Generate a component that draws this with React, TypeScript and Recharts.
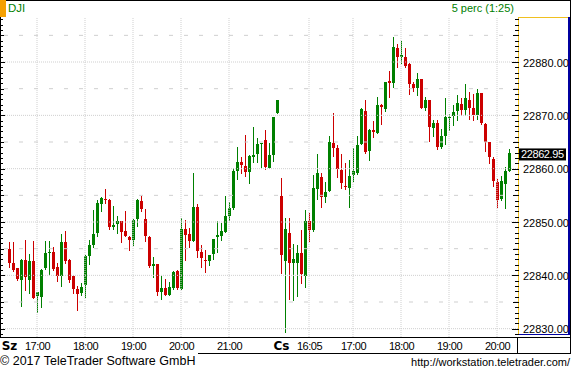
import React from "react";
import { ComposedChart, Bar, XAxis, YAxis, ReferenceLine } from "recharts";

// 5 minute candles, DJI, two sessions (Sz / Cs)
const opens = [
  22845.0, 22842.3, 22841.3, 22839.2, 22842.9, 22839.2, 22842.7, 22836.2, 22836.0, 22841.4,
  22844.1, 22844.3, 22841.6, 22839.9, 22846.2, 22842.8, 22839.9, 22837.4, 22836.6, 22838.2,
  22843.6, 22845.7, 22847.9, 22853.3, 22854.3, 22854.1, 22849.0, 22849.6, 22850.1, 22848.4,
  22847.2, 22846.7, 22850.6, 22854.0, 22850.6, 22847.2, 22841.8, 22842.1, 22836.9, 22837.7,
  22836.3, 22837.7, 22840.8, 22837.5, 22848.6, 22847.8, 22846.5, 22852.8, 22844.3, 22842.9,
  22842.75, 22844.0, 22847.1, 22847.4, 22848.2, 22851.2, 22852.6, 22859.6, 22861.2, 22860.5,
  22859.4, 22862.1, 22862.8, 22864.7, 22865.4, 22860.2, 22862.6, 22870.5, 22854.9, 22842.6,
  22847.9, 22842.4, 22842.25, 22844.1, 22839.9, 22850.2, 22848.5, 22856.1, 22858.4, 22854.6,
  22855.9, 22864.9, 22863.8, 22859.75, 22856.8, 22856.3, 22858.75, 22859.2, 22864.7, 22870.8,
  22863.4, 22867.3, 22866.7, 22871.95, 22871.2, 22876.4, 22876.0, 22882.6, 22881.0, 22881.0,
  22879.7, 22875.9, 22875.2, 22876.8, 22871.45, 22872.8, 22867.7, 22868.5, 22864.0, 22866.2,
  22869.6, 22869.8, 22870.8, 22872.1, 22870.95, 22872.9, 22871.3, 22870.1, 22874.1, 22868.3,
  22865.0, 22861.8, 22857.5, 22854.3, 22857.1, 22859.6,
];
const highs = [
  22846.2, 22846.2, 22841.4, 22843.1, 22846.7, 22844.0, 22846.5, 22836.9, 22841.1, 22846.5,
  22846.4, 22845.4, 22842.4, 22847.8, 22848.4, 22843.0, 22840.0, 22838.0, 22838.5, 22843.8,
  22846.7, 22852.3, 22854.2, 22854.7, 22856.1, 22854.3, 22853.0, 22851.2, 22850.2, 22852.0,
  22847.3, 22850.6, 22854.3, 22854.9, 22852.5, 22847.3, 22843.5, 22842.1, 22839.9, 22839.3,
  22838.8, 22840.9, 22841.0, 22850.8, 22850.4, 22848.9, 22859.1, 22853.3, 22845.7, 22844.8,
  22843.9, 22846.9, 22850.2, 22849.75, 22854.9, 22853.8, 22860.1, 22864.1, 22862.1, 22866.4,
  22862.6, 22867.8, 22865.8, 22864.9, 22867.25, 22864.9, 22869.75, 22872.9, 22858.2, 22850.8,
  22850.8, 22845.9, 22845.7, 22848.5, 22852.25, 22851.6, 22858.8, 22862.75, 22859.25, 22857.5,
  22866.1, 22870.4, 22864.4, 22862.75, 22861.1, 22861.7, 22863.85, 22866.2, 22871.3, 22872.8,
  22867.5, 22869.0, 22873.5, 22872.1, 22876.3, 22878.4, 22884.7, 22883.4, 22884.0, 22882.7,
  22879.75, 22876.2, 22877.9, 22876.9, 22873.4, 22872.9, 22869.15, 22869.15, 22867.5, 22873.3,
  22870.2, 22872.0, 22873.8, 22873.2, 22875.8, 22874.45, 22874.0, 22874.9, 22874.1, 22868.5,
  22865.0, 22862.1, 22858.0, 22858.6, 22860.4, 22863.6,
];
const lows = [
  22841.6, 22840.9, 22839.1, 22834.2, 22837.2, 22836.7, 22835.8, 22833.1, 22834.0, 22841.1,
  22840.3, 22841.0, 22839.0, 22838.0, 22842.3, 22838.8, 22836.7, 22833.5, 22836.3, 22836.0,
  22842.1, 22845.4, 22847.4, 22852.0, 22853.5, 22848.7, 22848.7, 22847.9, 22846.2, 22847.3,
  22844.8, 22845.7, 22849.3, 22852.0, 22846.5, 22841.6, 22839.6, 22836.3, 22835.5, 22836.3,
  22836.3, 22837.5, 22837.5, 22837.4, 22842.9, 22845.3, 22846.4, 22843.4, 22841.6, 22840.7,
  22841.9, 22843.1, 22844.4, 22846.6, 22848.1, 22850.4, 22852.4, 22858.1, 22859.1, 22858.7,
  22857.4, 22861.3, 22861.3, 22860.4, 22859.9, 22860.1, 22861.4, 22870.4, 22840.5, 22829.4,
  22835.6, 22835.4, 22836.2, 22838.6, 22837.9, 22846.5, 22848.3, 22854.25, 22852.75, 22853.8,
  22855.8, 22862.4, 22858.4, 22856.4, 22856.1, 22852.9, 22857.6, 22859.05, 22864.7, 22863.0,
  22861.55, 22865.85, 22866.7, 22868.4, 22870.8, 22873.5, 22875.4, 22879.1, 22879.9, 22879.1,
  22874.0, 22874.6, 22873.8, 22871.45, 22870.95, 22865.2, 22866.2, 22863.6, 22863.8, 22864.7,
  22867.3, 22868.1, 22869.15, 22870.0, 22870.1, 22869.3, 22869.1, 22869.25, 22868.4, 22863.4,
  22861.1, 22856.8, 22852.9, 22854.1, 22852.6, 22859.6,
];
const closes = [
  22842.4, 22841.0, 22839.3, 22842.9, 22839.7, 22842.7, 22835.8, 22836.9, 22841.0, 22844.2,
  22844.3, 22841.2, 22839.9, 22846.2, 22842.6, 22839.2, 22837.5, 22836.5, 22837.8, 22843.6,
  22845.7, 22847.8, 22853.6, 22854.5, 22854.1, 22849.0, 22849.5, 22850.1, 22848.2, 22847.3,
  22846.7, 22850.4, 22854.1, 22852.4, 22847.3, 22841.8, 22842.1, 22836.9, 22837.7, 22836.3,
  22837.9, 22840.7, 22837.7, 22848.6, 22847.6, 22846.4, 22852.8, 22844.5, 22843.3, 22842.6,
  22843.8, 22846.9, 22847.6, 22848.3, 22851.1, 22852.6, 22859.6, 22861.2, 22860.7, 22859.4,
  22862.4, 22862.6, 22864.6, 22864.8, 22860.4, 22862.6, 22869.6, 22872.9, 22843.8, 22848.7,
  22842.4, 22843.1, 22844.1, 22840.25, 22850.2, 22848.5, 22856.4, 22859.1, 22854.75, 22855.6,
  22865.0, 22863.8, 22860.0, 22857.25, 22856.6, 22858.7, 22859.6, 22864.5, 22871.2, 22863.2,
  22867.3, 22866.8, 22872.0, 22871.5, 22876.2, 22876.1, 22882.9, 22881.0, 22881.4, 22879.25,
  22875.9, 22875.2, 22876.8, 22871.45, 22872.8, 22867.9, 22868.5, 22864.1, 22866.1, 22869.6,
  22869.7, 22870.7, 22872.3, 22871.0, 22873.2, 22871.45, 22870.1, 22874.1, 22868.5, 22865.0,
  22862.1, 22857.6, 22854.15, 22857.7, 22859.6, 22862.95,
];

// x axis: candle index -> label
const tickIdx = [0, 7, 19, 31, 43, 55, 68, 75, 86, 98, 110, 122];
const tickText = ["Sz", "17:00", "18:00", "19:00", "20:00", "21:00", "Cs", "16:05", "17:00", "18:00", "19:00", "20:00"];
const dayTicks = ["Sz", "Cs"];

const majorLevels = [22830, 22840, 22850, 22860, 22870, 22880];
const halfLevels = [22835, 22845, 22855, 22865, 22875, 22885];
const yDomain = [22828.44, 22888.44];
const lastPrice = 22862.95;

const UP = "#008000";
const DOWN = "#cc0000";
const GRID = "#cfcfcf";
const FONT = "'Liberation Sans', Arial, sans-serif";

const data = opens.map((o, i) => ({
  i,
  o,
  h: highs[i],
  l: lows[i],
  c: closes[i],
  range: [lows[i], highs[i]],
}));

// one tick per price unit on both side rulers
const unitTicks = Array.from({ length: 60 }, (_, k) => 22829 + k);

const Candle = (props: any) => {
  const { x, y, width, height, payload } = props;
  if (!payload) return null;
  const { o, h, l, c } = payload;
  const top = Math.min(y, y + height);
  const bot = Math.max(y, y + height);
  const py = (v: number) => (h > l ? top + ((h - v) / (h - l)) * (bot - top) : top);
  const cx = Math.round(x + width / 2);
  const color = c >= o ? UP : DOWN;
  const bTop = Math.round(py(Math.max(o, c)));
  const bBot = Math.max(bTop + 1, Math.round(py(Math.min(o, c))));
  return (
    <g shapeRendering="crispEdges">
      <line x1={cx + 0.5} x2={cx + 0.5} y1={Math.round(py(h))} y2={Math.round(py(l)) + 1} stroke={color} strokeWidth={1} />
      <rect x={cx - 1} y={bTop} width={3} height={bBot - bTop} fill={color} />
    </g>
  );
};

const YTick = (props: any) => {
  const { y, payload } = props;
  const v = payload.value;
  const major = v % 10 === 0;
  const half = v % 5 === 0;
  const leftLen = major ? 5 : half ? 4 : 3;
  const rightStart = major ? 512 : half ? 513 : 515;
  const yy = Math.round(y) + 0.5;
  return (
    <g>
      <line x1={0} x2={leftLen} y1={yy} y2={yy} stroke="#000" />
      <line x1={rightStart} x2={519} y1={yy} y2={yy} stroke="#000" />
      {major && (
        <text x={523} y={y + 4.5} fontSize={11} fontFamily={FONT} fill="#000">
          {v.toFixed(2)}
        </text>
      )}
    </g>
  );
};

const XTick = (props: any) => {
  const { x, payload } = props;
  const label = tickText[tickIdx.indexOf(payload.value)];
  const isDay = dayTicks.includes(label);
  return (
    <text
      x={x + 1.5}
      y={350}
      textAnchor="middle"
      fontSize={isDay ? 12 : 11}
      fontWeight={isDay ? "bold" : "normal"}
      letterSpacing={isDay ? 0 : -0.5}
      fontFamily={isDay ? "'DejaVu Sans', sans-serif" : FONT}
      fill="#000"
    >
      {label}
    </text>
  );
};

const LastPriceLabel = (props: any) => {
  const vb = props.viewBox;
  if (!vb) return null;
  const x0 = vb.x + vb.width + 1;
  return (
    <g>
      <rect x={x0} y={vb.y - 4.5} width={47} height={12} fill="#000" />
      <text x={x0 + 2} y={vb.y + 5.5} fontSize={11} letterSpacing={-0.4} fontFamily={FONT} fill="#fff">
        {lastPrice.toFixed(2)}
      </text>
    </g>
  );
};

const VGrid = (p: any) => (
  <line x1={p.x1 + 1} x2={p.x2 + 1} y1={p.y1} y2={p.y2} stroke={GRID} strokeDasharray="1 1" />
);

const line = (style: React.CSSProperties) => (
  <div style={{ position: "absolute", background: "#000", ...style }} />
);

export default function App() {
  return (
    <div
      style={{
        position: "absolute",
        left: 0,
        top: 0,
        width: 571,
        height: 372,
        background: "#fff",
        overflow: "hidden",
        fontFamily: FONT,
      }}
    >
      {/* frame */}
      {line({ left: 0, top: 0, width: 571, height: 1 })}
      {line({ left: 570, top: 0, width: 1, height: 354 })}
      {line({ left: 0, top: 17, width: 1, height: 320 })}
      {line({ left: 0, top: 337, width: 571, height: 1 })}
      {line({ left: 198, top: 353, width: 373, height: 1 })}
      {line({ left: 517, top: 337, width: 1, height: 16 })}
      {/* price scale panel */}
      <div style={{ position: "absolute", left: 518, top: 17, width: 51, height: 1, background: "#f0c020" }} />
      <div style={{ position: "absolute", left: 518, top: 17, width: 1, height: 318, background: "#f0c020" }} />
      <div style={{ position: "absolute", left: 568, top: 17, width: 2, height: 318, background: "#0000a0" }} />
      <div style={{ position: "absolute", left: 518, top: 334, width: 52, height: 1, background: "#0000a0" }} />
      {/* header */}
      <div style={{ position: "absolute", left: 0, top: 0, width: 6, height: 17, background: "#f5a000" }} />
      <div style={{ position: "absolute", left: 8, top: 2, fontSize: 11.5, color: "#008000", lineHeight: "13px" }}>DJI</div>
      <div
        style={{ position: "absolute", right: 57, top: 2, fontSize: 11, color: "#008000", lineHeight: "13px", whiteSpace: "nowrap" }}
      >
        5 perc (1:25)
      </div>
      {/* footer */}
      <div style={{ position: "absolute", left: 0, top: 354, fontSize: 12.5, lineHeight: "15px", color: "#000", whiteSpace: "nowrap" }}>
        © 2017 TeleTrader Software GmbH
      </div>
      <div style={{ position: "absolute", right: 1, top: 355, fontSize: 11, lineHeight: "15px", color: "#000", whiteSpace: "nowrap" }}>
        http://workstation.teletrader.com/
      </div>

      <ComposedChart
        width={571}
        height={372}
        data={data}
        margin={{ top: 17, right: 0, bottom: 0, left: 3 }}
        style={{ position: "absolute", left: 0, top: 0 }}
      >
        <XAxis
          dataKey="i"
          type="category"
          padding={{ left: 3, right: 8 }}
          ticks={tickIdx}
          interval={0}
          tick={<XTick />}
          tickLine={false}
          axisLine={false}
          height={35}
        />
        <YAxis
          orientation="right"
          domain={yDomain}
          allowDataOverflow
          ticks={unitTicks}
          interval={0}
          tick={<YTick />}
          tickLine={false}
          axisLine={false}
          width={53}
        />
        {majorLevels.map((v) => (
          <ReferenceLine key={"m" + v} y={v} stroke={GRID} strokeDasharray="1 1" />
        ))}
        {halfLevels.map((v) => (
          <ReferenceLine key={"h" + v} y={v} stroke={GRID} strokeDasharray="4 11" />
        ))}
        {tickIdx
          .filter((_, k) => !dayTicks.includes(tickText[k]))
          .map((i) => (
            <ReferenceLine key={"v" + i} x={i} stroke={GRID} strokeDasharray="1 1" shape={VGrid} />
          ))}
        <Bar dataKey="range" barSize={3} shape={<Candle />} isAnimationActive={false} />
        <ReferenceLine y={lastPrice} stroke="none" label={<LastPriceLabel />} />
      </ComposedChart>
    </div>
  );
}
